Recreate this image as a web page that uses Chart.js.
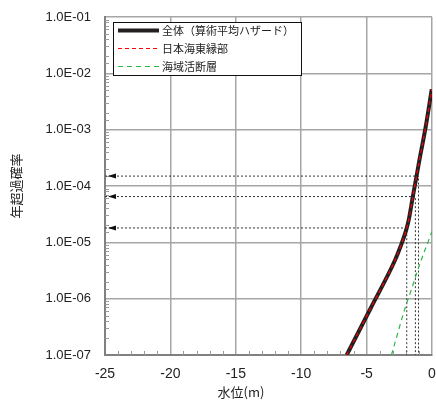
<!DOCTYPE html>
<html>
<head>
<meta charset="utf-8">
<script src="https://cdn.jsdelivr.net/npm/chart.js@4.4.1/dist/chart.umd.min.js"></script>
<style>
  html, body { margin: 0; padding: 0; background: #fff; }
</style>
</head>
<body>
<canvas id="myCanvas" width="436" height="401"></canvas>
<script>
// 全体（算術平均ハザード）
const totalDepth = [-6.52, -4.7, -2.83, -2.4, -1.96, -1.78, -1.47, -1.19, -0.96, -0.48, -0.02];
const totalProb  = [1.0e-7, 6.7e-7, 4.8e-6, 8.5e-6, 1.7e-5, 2.5e-5, 6.4e-5, 1.46e-4, 2.9e-4, 1.13e-3, 5.2e-3];
// 日本海東縁部 (重なっている)
const eastDepth = [-6.52, -4.7, -2.83, -2.4, -1.96, -1.78, -1.47, -1.19, -0.96, -0.48, -0.02];
const eastProb  = [1.0e-7, 6.7e-7, 4.8e-6, 8.5e-6, 1.7e-5, 2.5e-5, 6.4e-5, 1.46e-4, 2.9e-4, 1.13e-3, 5.2e-3];
// 海域活断層
const faultDepth = [-3.1, -2.0, -1.68, -0.92, 0];
const faultProb  = [1.0e-7, 7.5e-7, 1.23e-6, 4.2e-6, 1.55e-5];
// 矢印（点線）
const arrowProb  = [1.5e-4, 6.5e-5, 1.8e-5];
const arrowDepth = [-1.03, -1.27, -1.93];

const xMin = -25, xMax = 0;
const yMin = 1e-7, yMax = 1e-1;

const seriesLabels = ["全体（算術平均ハザード）", "日本海東縁部", "海域活断層"];

function pts(xs, ys) {
  return xs.map((x, i) => ({ x: x, y: ys[i] }));
}

function isDecade(v) {
  const l = Math.log10(v);
  return Math.abs(l - Math.round(l)) < 1e-6;
}

const datasets = [
  {
    label: seriesLabels[1],
    data: pts(eastDepth, eastProb),
    borderColor: "#ff0000",
    borderWidth: 1.2,
    borderDash: [4, 3],
    cubicInterpolationMode: "monotone",
    pointRadius: 0
  },
  {
    label: seriesLabels[0],
    data: pts(totalDepth, totalProb),
    borderColor: "#231f20",
    borderWidth: 4,
    cubicInterpolationMode: "monotone",
    pointRadius: 0
  },
  {
    label: seriesLabels[2],
    data: pts(faultDepth, faultProb),
    borderColor: "#2db84b",
    borderWidth: 1.2,
    borderDash: [5, 4],
    cubicInterpolationMode: "monotone",
    pointRadius: 0
  }
];

arrowProb.forEach((p, i) => {
  datasets.push({
    label: "arrow" + i,
    data: [{ x: xMin, y: p }, { x: arrowDepth[i], y: p }, { x: arrowDepth[i], y: yMin }],
    borderColor: "#333333",
    borderWidth: 1,
    borderDash: [2, 2],
    pointRadius: 0
  });
});

// 矢じり・小目盛・凡例・x軸タイトル
const extras = {
  id: "extras",
  beforeDatasetsDraw(chart) {
    const ctx = chart.ctx;
    const xs = chart.scales.x, ys = chart.scales.y;
    const a = chart.chartArea;
    ctx.save();
    ctx.strokeStyle = "#9a9a9a";
    ctx.lineWidth = 1;
    xs.ticks.forEach(t => {
      if (t.value % 5 === 0) return;
      const px = Math.round(xs.getPixelForValue(t.value)) + 0.5;
      ctx.beginPath();
      ctx.moveTo(px, a.bottom);
      ctx.lineTo(px, a.bottom - 4);
      ctx.stroke();
    });
    ys.ticks.forEach(t => {
      if (isDecade(t.value)) return;
      const py = Math.round(ys.getPixelForValue(t.value)) + 0.5;
      ctx.beginPath();
      ctx.moveTo(a.left, py);
      ctx.lineTo(a.left + 4, py);
      ctx.stroke();
    });
    ctx.restore();
  },
  afterDatasetsDraw(chart) {
    const ctx = chart.ctx;
    const xs = chart.scales.x, ys = chart.scales.y;
    const a = chart.chartArea;
    ctx.save();
    ctx.fillStyle = "#111";
    arrowProb.forEach(p => {
      const tip = xs.getPixelForValue(xMin) + 3;
      const py = ys.getPixelForValue(p);
      ctx.beginPath();
      ctx.moveTo(tip, py);
      ctx.lineTo(tip + 8, py - 2.5);
      ctx.lineTo(tip + 8, py + 2.5);
      ctx.closePath();
      ctx.fill();
    });

    // 凡例
    const bx = a.left + 8, by = a.top + 5, bw = 188, bh = 53;
    ctx.fillStyle = "#fff";
    ctx.fillRect(bx, by, bw, bh);
    ctx.strokeStyle = "#111";
    ctx.lineWidth = 1;
    ctx.setLineDash([]);
    ctx.strokeRect(bx + 0.5, by + 0.5, bw, bh);
    const order = [1, 0, 2];
    ctx.font = "11px 'Noto Sans CJK JP'";
    ctx.textBaseline = "middle";
    order.forEach((di, row) => {
      const ds = chart.data.datasets[di];
      const ly = by + 8.5 + row * 18;
      ctx.beginPath();
      ctx.strokeStyle = ds.borderColor;
      ctx.lineWidth = ds.borderWidth;
      ctx.setLineDash(ds.borderDash || []);
      ctx.moveTo(bx + 5, ly);
      ctx.lineTo(bx + 46, ly);
      ctx.stroke();
      ctx.setLineDash([]);
      ctx.fillStyle = "#222";
      ctx.fillText(ds.label, bx + 49, ly);
    });

    // x軸タイトル
    ctx.font = "13px 'Noto Sans CJK JP'";
    ctx.textAlign = "center";
    ctx.textBaseline = "middle";
    ctx.fillStyle = "#222";
    ctx.fillText("水位(m)", a.left + 136, a.bottom + 37);
    ctx.restore();
  }
};

const config = {
  type: "line",
  data: { datasets: datasets },
  options: {
    responsive: false,
    animation: false,
    layout: { padding: { top: 17, right: 4, left: 0, bottom: 0 } },
    plugins: {
      legend: { display: false },
      tooltip: { enabled: false }
    },
    scales: {
      x: {
        type: "linear",
        min: xMin,
        max: xMax,
        afterFit(scale) {
          scale.height = 46;
          scale.paddingLeft = 0;
          scale.paddingRight = 0;
        },
        ticks: {
          stepSize: 1,
          autoSkip: false,
          maxRotation: 0,
          padding: 11,
          color: "#222",
          font: { family: "'Liberation Sans', Arial", size: 14 },
          callback: v => (v % 5 === 0 ? String(v === 0 ? 0 : v) : "")
        },
        grid: {
          drawTicks: false,
          lineWidth: 1.5,
          color: c => (c.tick && c.tick.value % 5 === 0 ? "#a6a6a6" : "rgba(0,0,0,0)")
        },
        border: { color: "#808080", width: 2 }
      },
      y: {
        type: "logarithmic",
        min: yMin,
        max: yMax,
        afterFit(scale) {
          scale.width = 105;
          scale.paddingTop = 0;
          scale.paddingBottom = 0;
        },
        title: {
          display: true,
          text: "年超過確率",
          color: "#222",
          font: { family: "'Noto Sans CJK JP'", size: 13 },
          padding: { top: 8, bottom: 0 }
        },
        ticks: {
          autoSkip: false,
          padding: 14,
          color: "#222",
          font: { family: "'Liberation Sans', Arial", size: 13 },
          callback: v => {
            if (!isDecade(v)) return "";
            const e = Math.round(Math.log10(v));
            return "1.0E-" + String(-e).padStart(2, "0");
          }
        },
        grid: {
          drawTicks: false,
          lineWidth: 1.5,
          color: c => (c.tick && isDecade(c.tick.value) ? "#a6a6a6" : "rgba(0,0,0,0)")
        },
        border: { color: "#808080", width: 2 }
      }
    }
  },
  plugins: [extras]
};

const myChart = new Chart(document.getElementById("myCanvas").getContext("2d"), config);
</script>
</body>
</html>
